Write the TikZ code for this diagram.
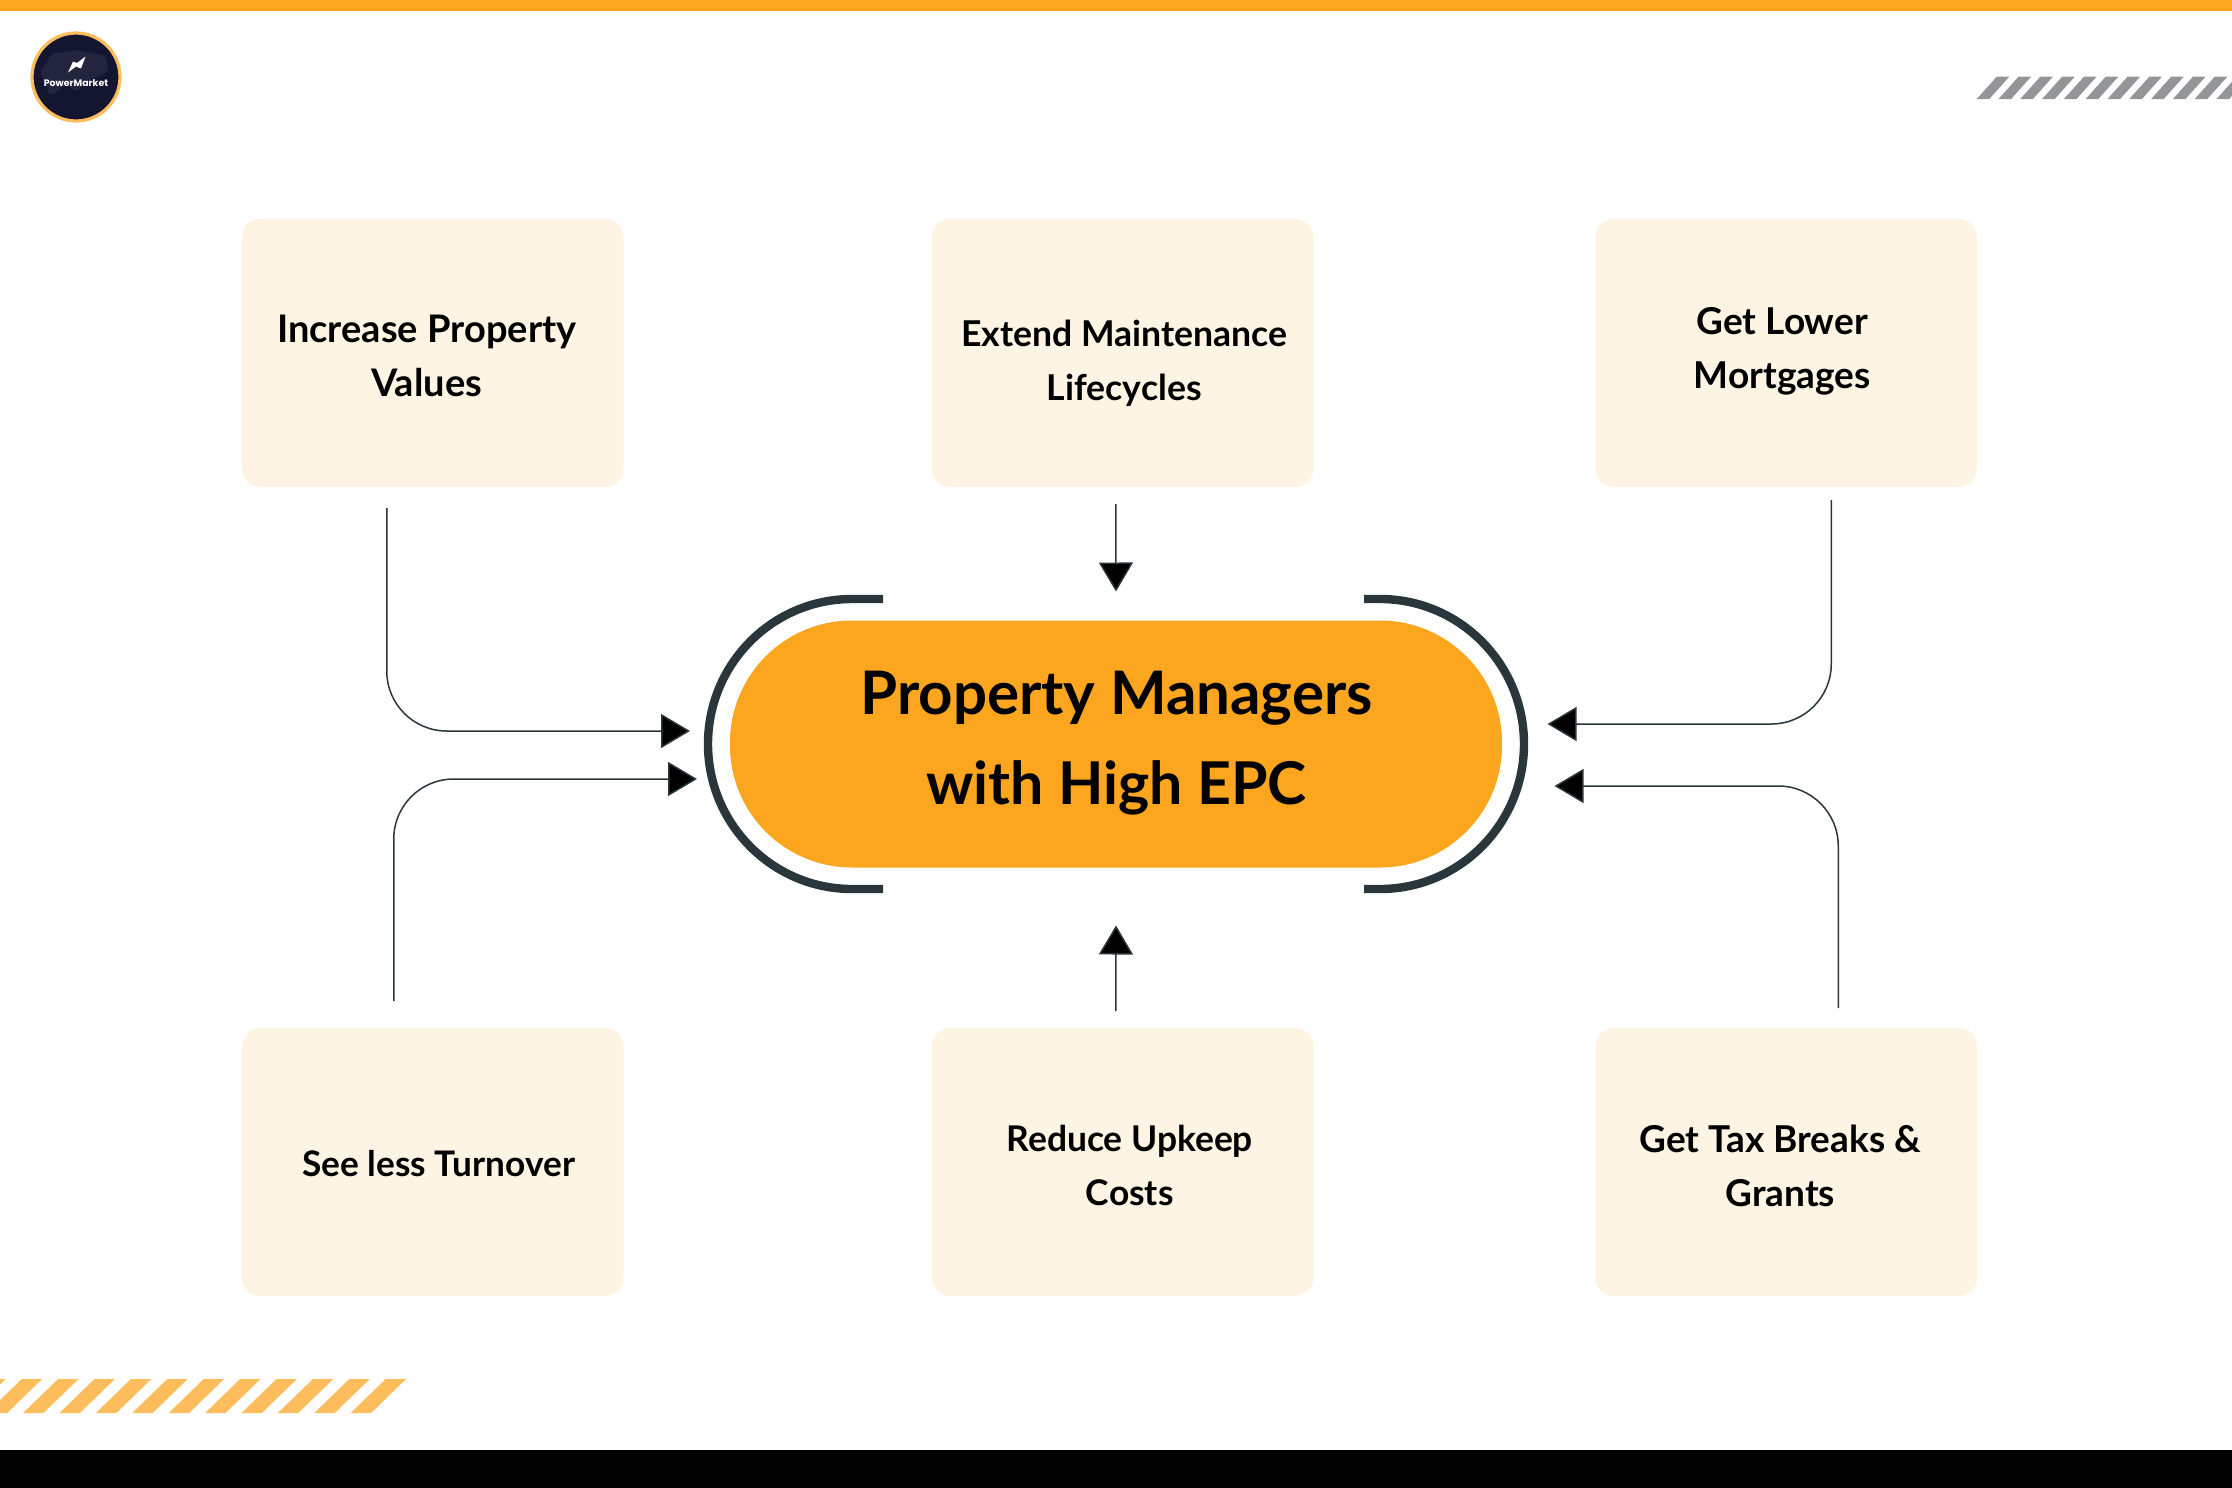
\documentclass[tikz,border=0pt]{standalone}
\usepackage{fontspec}
\setmainfont{Lato}
\newfontfamily\logofont{Poppins}
\usetikzlibrary{arrows.meta,positioning}
\definecolor{barorange}{HTML}{FCA51F}
\definecolor{stripeorange}{HTML}{FDBD5C}
\definecolor{stripegrey}{HTML}{939598}
\definecolor{boxcream}{HTML}{FDF4E3}
\definecolor{linedark}{HTML}{29363C}
\definecolor{logonavy}{HTML}{141530}
\definecolor{logomap}{HTML}{23253F}

\begin{document}
\begin{tikzpicture}[
  x=0.5pt, y=-0.5pt,
  box/.style={fill=boxcream, rounded corners=9pt, minimum width=190.75pt, minimum height=134pt, inner sep=0pt, outer sep=0pt},
  lbl/.style={align=center, font=\fontsize{#1}{27}\selectfont\bfseries, inner sep=0pt},
  lbl/.default=19,
  pill/.style={fill=barorange, rounded corners=61pt, minimum width=386pt, minimum height=123.5pt, inner sep=0pt, outer sep=0pt},
  bracket/.style={linedark, line width=4.2pt},
  arr/.style={-{Triangle[length=14.5pt,width=17pt,fill=black]}, draw=linedark, line width=0.75pt, rounded corners=30pt}
]
\useasboundingbox (0,0) rectangle (2232,1488);
\fill[barorange] (0,0) rectangle (2232,11);
\fill[black] (0,1450) rectangle (2232,1488);

% stripes
\foreach \k in {0,...,11} {
  \fill[stripeorange] ({385.7-36.4*\k},1379) -- ++(20.4,0) -- ++(-35,34) -- ++(-20.4,0) -- cycle;
  \fill[stripegrey] ({1996.7+21.8*\k},76.7) -- ++(12.6,0) -- ++(-20,22.3) -- ++(-12.6,0) -- cycle;
}

% logo
\node[circle, fill=logonavy, draw=stripeorange, line width=1.6pt, minimum size=44pt, inner sep=0pt] (logo) at (76,77) {};
\fill[logomap, rounded corners=1.5pt] (40,72) -- (52,54) -- (78,50) -- (106,56) -- (108,72) -- (90,80) -- (76,92) -- (66,84) -- (50,96) -- cycle;
\fill[white] (68,72.5) -- (73,61.5) -- (77,63) -- (85.5,56.5) -- (81,68.5) -- (76,66.5) -- cycle;
\node[font=\logofont\fontsize{4.7}{5}\selectfont\bfseries, text=white, inner sep=0pt] (logotxt) at (76,83.5) {PowerMarket};

% boxes
\node[box] (inc) at (432.75,353) {};
\node[box, right=154.25pt of inc] (ext) {};
\node[box, right=141pt of ext] (low) {};
\node[box, below=270.5pt of inc] (see) {};
\node[box, below=270.5pt of ext] (red) {};
\node[box, below=270.5pt of low] (tax) {};

\node[lbl] (inctxt) at ([shift={(-6,3)}]inc.center) {Increase Property\\Values};
\node[lbl=17.8] (exttxt) at ([shift={(1.5,10)}]ext.center) {Extend Maintenance\\Lifecycles};
\node[lbl=18.5] (lowtxt) at ([shift={(-4,-2)}]low.center) {Get Lower\\Mortgages};
\node[lbl=17.6] (seetxt) at ([shift={(6,2)}]see.center) {See less Turnover};
\node[lbl=17.7] (redtxt) at ([shift={(7,3)}]red.center) {Reduce Upkeep\\Costs};
\node[lbl=18.5] (taxtxt) at ([shift={(-6,4)}]tax.center) {Get Tax Breaks \&\\Grants};

% centre
\node[pill] (core) at (1116,744) {};
\node[lbl, font=\fontsize{30}{45}\selectfont\bfseries] (coretxt) at ([shift={(0.5,-1)}]core.center) {Property Managers\\{\fontsize{29.5}{45}\selectfont with High EPC}};
\draw[bracket] (1364,599) -- (1380,599) arc[start angle=90, end angle=-90, x radius=72pt, y radius=72.5pt] -- (1364,889);
\draw[bracket] (883,599) -- (852,599) arc[start angle=90, end angle=270, x radius=72pt, y radius=72.5pt] -- (883,889);

% arrows
\draw[arr] ([shift={(-46,21)}]inc.south) |- ([shift={(-40,-13)}]core.west);
\draw[arr] ([shift={(-39,-27)}]see.north) |- ([shift={(-33,35)}]core.west);
\draw[arr] ([shift={(-7,17)}]ext.south) -- ([shift={(0,-29)}]core.north);
\draw[arr] ([shift={(-7,-17)}]red.north) -- ([shift={(0,58)}]core.south);
\draw[arr] ([shift={(45,13)}]low.south) |- ([shift={(45.5,-20)}]core.east);
\draw[arr] ([shift={(52,-20)}]tax.north) |- ([shift={(52.5,42)}]core.east);
\end{tikzpicture}
\end{document}
